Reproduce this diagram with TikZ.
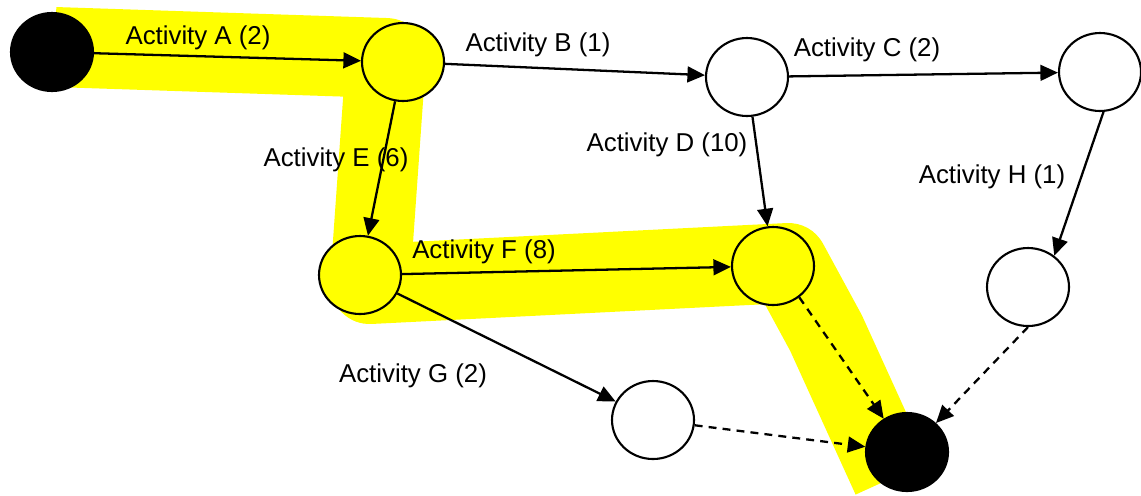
\documentclass[tikz,border=0pt]{standalone}
\usepackage{fontspec}
\setmainfont{Liberation Sans}
\usepackage{xcolor}
\usetikzlibrary{arrows.meta, shapes.geometric}

\definecolor{marker}{RGB}{255,255,0}

\begin{document}
\begin{tikzpicture}[x=0.02cm, y=-0.02cm,
    font=\fontsize{14.7}{17}\selectfont,
    event/.style={ellipse, draw, line width=1.2pt, fill=white,
        minimum width=1.64cm, minimum height=1.56cm, inner sep=0pt},
    done/.style={event, fill=black},
    act/.style={line width=1.3pt, -{Triangle[length=10pt, width=9pt]}},
    dummy/.style={act, dash pattern=on 4.5pt off 3.5pt},
    lbl/.style={inner sep=0pt}]
    \useasboundingbox (0,0) rectangle (1141,495);

    % critical path, highlighted
    \draw[marker, line width=1.6cm, line join=round]
        (55,47) -- (386,58) -- (370,284) -- (788,263) -- (826,333) -- (892,478);

    \node[done] (s) at (52,52) {};
    \node[event, fill=marker] (n1) at (403,62) {};
    \node[event] (n2) at (747,77) {};
    \node[event] (n3) at (1100,72) {};
    \node[event, fill=marker] (n4) at (360,275) {};
    \node[event, fill=marker] (n5) at (773,266) {};
    \node[event] (n6) at (1028,287) {};
    \node[event] (n7) at (653,420) {};
    \node[done] (e) at (907,452) {};

    \draw[act] (s) -- (n1);
    \draw[act] (n1) -- (n2);
    \draw[act] (n2) -- (n3);
    \draw[act] (n2) -- (n5);
    \draw[act] (n1) -- (n4);
    \draw[act] (n4) -- (n5);
    \draw[act] (n4) -- (n7);
    \draw[act] (n3.-85) -- (n6.50);
    \draw[dummy] (n5.-50) -- (e.125);
    \draw[dummy] (n6.-90) -- (e.45);
    \draw[dummy] (n7) -- (e);

    \node[lbl] (la) at (198,38) {Activity A (2)};
    \node[lbl] (lb) at (538,45) {Activity B (1)};
    \node[lbl] (lc) at (867,50) {Activity C (2)};
    \node[lbl] (ld) at (667,145) {Activity D (10)};
    \node[lbl] (le) at (336,160) {Activity E (6)};
    \node[lbl] (lf) at (484,252) {Activity F (8)};
    \node[lbl] (lg) at (413,376) {Activity G (2)};
    \node[lbl] (lh) at (992,177) {Activity H (1)};
\end{tikzpicture}
\end{document}
